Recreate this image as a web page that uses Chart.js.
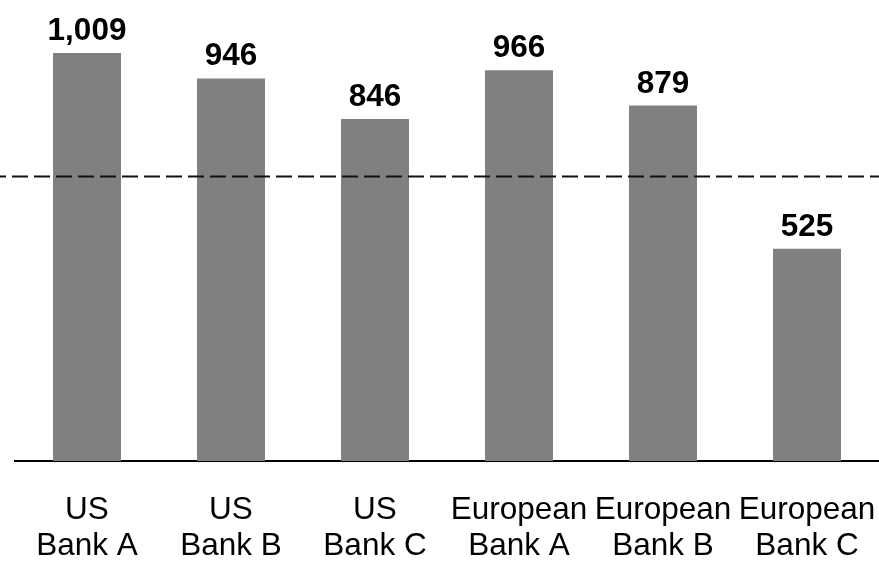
<!DOCTYPE html>
<html>
<head>
<meta charset="utf-8">
<script src="https://cdn.jsdelivr.net/npm/chart.js@4/dist/chart.umd.min.js"></script>
<style>
    html, body { margin: 0; padding: 0; background: #fff; }
    #wrap { width: 879px; height: 561px; position: relative; }
</style>
</head>
<body>
<div id="wrap"><canvas id="bankChart"></canvas></div>
<script>
// Chart data
const regions = ['US', 'US', 'US', 'European', 'European', 'European'];
const banks = ['Bank A', 'Bank B', 'Bank C', 'Bank A', 'Bank B', 'Bank C'];
const values = [1009, 946, 846, 966, 879, 525];
const referenceValue = 705;

const labels = regions.map((r, i) => [r, banks[i]]);

/**
 * Draws the dashed reference line across the full width
 */
const referenceLine = {
    id: 'referenceLine',
    afterDatasetsDraw(chart) {
        const ctx = chart.ctx;
        const y = Math.round(chart.scales.y.getPixelForValue(referenceValue)) + 0.5;
        ctx.save();
        ctx.strokeStyle = '#111';
        ctx.lineWidth = 2;
        ctx.setLineDash([16, 6]);
        ctx.lineDashOffset = 10;
        ctx.beginPath();
        ctx.moveTo(0, y);
        ctx.lineTo(chart.width, y);
        ctx.stroke();
        ctx.restore();
    }
};

/**
 * Value labels above each bar
 */
const valueLabels = {
    id: 'valueLabels',
    afterDatasetsDraw(chart) {
        const ctx = chart.ctx;
        const meta = chart.getDatasetMeta(0);
        ctx.save();
        ctx.fillStyle = '#000';
        ctx.font = 'bold 31.5px "Liberation Sans", Arial, sans-serif';
        ctx.textAlign = 'center';
        ctx.textBaseline = 'alphabetic';
        meta.data.forEach((bar, i) => {
            ctx.fillText(values[i].toLocaleString('en-US'), bar.x, bar.y - 13);
        });
        ctx.restore();
    }
};

new Chart(document.getElementById('bankChart'), {
    type: 'bar',
    data: {
        labels: labels,
        datasets: [{
            data: values,
            backgroundColor: '#7e817f',
            borderWidth: 0,
            barPercentage: 0.472,
            categoryPercentage: 1
        }]
    },
    options: {
        responsive: true,
        maintainAspectRatio: false,
        animation: false,
        layout: { padding: { left: 15, right: 0, top: 0, bottom: 0 } },
        plugins: {
            legend: { display: false },
            tooltip: { enabled: false }
        },
        scales: {
            x: {
                grid: { display: false, drawTicks: false },
                border: { display: true, color: '#000', width: 2 },
                ticks: {
                    color: '#000',
                    padding: 31,
                    maxRotation: 0,
                    autoSkip: false,
                    font: { family: '"Liberation Sans", Arial, sans-serif', size: 31.5, lineHeight: 1.15 }
                },
                afterFit(scale) {
                    // keep the plot area exactly where the reference has it
                    scale.height = 100;
                    scale.paddingLeft = 0;
                    scale.paddingRight = 0;
                }
            },
            y: {
                display: false,
                min: 0,
                max: 1140
            }
        }
    },
    plugins: [referenceLine, valueLabels]
});
</script>
</body>
</html>
